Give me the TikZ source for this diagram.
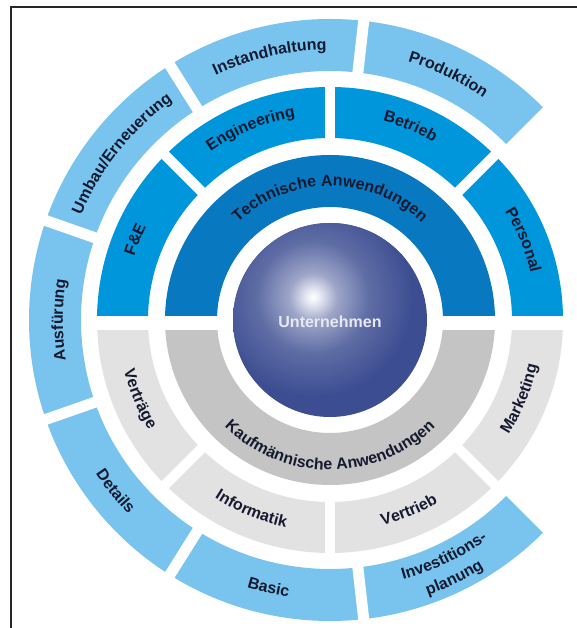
\documentclass[tikz,border=0pt]{standalone}
\usepackage{fontspec}
\setmainfont{Liberation Sans}
\usetikzlibrary{decorations.text}
\definecolor{outerblue}{HTML}{78C4EE}
\definecolor{midblue}{HTML}{0096DB}
\definecolor{innerblue}{HTML}{0878C0}
\definecolor{kgrey}{HTML}{C4C4C4}
\definecolor{lgrey}{HTML}{E2E2E2}
\definecolor{core}{HTML}{3C4D91}
\definecolor{txt}{HTML}{161A30}
\definecolor{coretxt}{HTML}{E8E8F0}
\newcommand\lblfont{\fontsize{16}{18}\selectfont\bfseries\color{txt}}
\newcommand\ringsector[5]{%
  \fill[#1] (#2:#5) arc[start angle=#2, end angle=#3, radius=#5]
    -- (#3:#4) arc[start angle=#3, end angle=#2, radius=#4] -- cycle;}
% top-style label: clockwise arc, letters pointing outward
\newcommand\toplabel[3]{%
  \path[decorate, decoration={text along path, text align=center,
    text={|\lblfont|#3}}]
    ({#1+75}:#2) arc[start angle={#1+75}, end angle={#1-75}, radius=#2];}
% bottom-style label: counter-clockwise arc, letters pointing inward
\newcommand\botlabel[3]{%
  \path[decorate, decoration={text along path, text align=center,
    text={|\lblfont|#3}}]
    ({#1-75}:#2) arc[start angle={#1-75}, end angle={#1+75}, radius=#2];}
\pgfdeclareradialshading{coreglow}{\pgfpoint{0bp}{0bp}}{%
  color(0bp)=(white); color(1.5bp)=(white!90!core);
  color(6bp)=(core!50!white); color(14bp)=(core!82!white);
  color(25bp)=(core); color(50bp)=(core)}
\tikzset{gapline/.style={white, line width=#1}}
\begin{document}
\begin{tikzpicture}[x=1pt,y=1pt]
\useasboundingbox (0,0) rectangle (576,628);
\fill[white] (0,0) rectangle (576,628);
% frame
\draw[line width=1.3pt, black!85] (11,0) -- (11,621) -- (577,621);

\begin{scope}[shift={(330,308)}]
  % ring 2
  \ringsector{innerblue}{0}{180}{113}{165}
  \ringsector{kgrey}{180}{360}{113}{165}
  % ring 3
  \ringsector{midblue}{0}{180}{182}{233}
  \ringsector{lgrey}{180}{360}{182}{233}
  % ring 4
  \ringsector{outerblue}{45}{315}{249}{301}
  % horizontal gap
  \fill[white] (-240,-10) rectangle (240,4);
  % ring 3 gaps
  \foreach \a in {45,90,135,225,270,315}
    \draw[gapline=10pt] (\a:176) -- (\a:240);
  % ring 4 gaps
  \foreach \k in {1,...,6}
    \draw[gapline=11pt] ({45+38.5714*\k}:243) -- ({45+38.5714*\k}:307);
  % centre
  \fill[core] (0,0) circle (97);
  \begin{scope}
    \clip (0,0) circle (97);
    \shade[shading=coreglow] (-17,23) circle (100);
  \end{scope}
  \node[font=\fontsize{16}{18}\selectfont\bfseries, text=coretxt] (core) at (0,-2) {Unternehmen};

  % ring 2 labels
  \toplabel{90}{134}{Technische Anwendungen}
  \botlabel{270}{150}{Kaufmännische Anwendungen}
  % ring 3 labels
  \toplabel{157.5}{206}{F{\&}E}
  \toplabel{112.5}{206}{Engineering}
  \toplabel{67.5}{206}{Betrieb}
  \toplabel{22.5}{206}{Personal}
  \botlabel{202.5}{212}{Verträge}
  \botlabel{247.5}{212}{Informatik}
  \botlabel{292.5}{212}{Vertrieb}
  \botlabel{337.5}{212}{Marketing}
  % ring 4 labels
  \toplabel{64.3}{270}{Produktion}
  \toplabel{102.9}{270}{Instandhaltung}
  \toplabel{141.4}{270}{Umbau/Erneuerung}
  \toplabel{180}{267}{Ausfürung}
  \botlabel{218.6}{280}{Details}
  \botlabel{257.1}{280}{Basic}
  \botlabel{295.7}{270}{Investitions-}
  \botlabel{295.7}{292}{planung}
\end{scope}
\end{tikzpicture}
\end{document}
